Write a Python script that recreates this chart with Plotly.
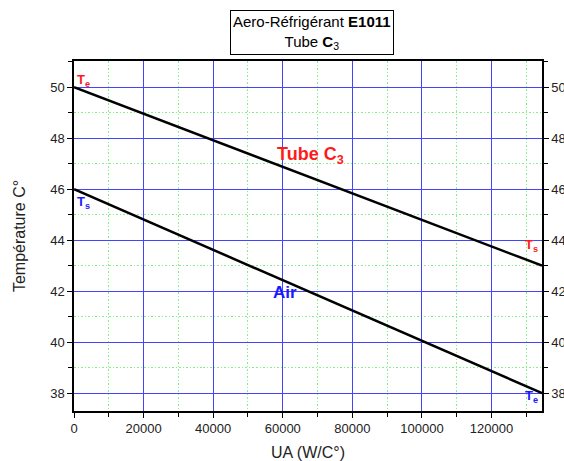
import plotly.graph_objects as go

# Heat-transfer duty axis (W/°C) and temperature profiles
ua = [0, 134500]
t_tube = [50, 43]   # tube-side fluid C3: inlet 50 °C -> outlet 43 °C
t_air = [46, 38]    # air side: outlet 46 °C at UA=0, inlet 38 °C at UA max

x_range = [0, 134500]
y_range = [37.3, 51.03]

FONT = "Liberation Sans, Arial, sans-serif"
BLUE_GRID = "#4444ff"
GREEN_MINOR = "#88ee88"
DOTS = "1.5px,2px"

fig = go.Figure()
fig.add_trace(go.Scatter(x=ua, y=t_tube, mode="lines",
                         line=dict(color="black", width=2.5), showlegend=False))
fig.add_trace(go.Scatter(x=ua, y=t_air, mode="lines",
                         line=dict(color="black", width=2.5), showlegend=False))
# carrier for the right-hand temperature axis
fig.add_trace(go.Scatter(x=ua, y=t_air, yaxis="y2", mode="lines",
                         line=dict(width=0), opacity=0, hoverinfo="skip",
                         showlegend=False))

axis_common = dict(
    showline=True, linecolor="black", linewidth=1.5,
    ticks="outside", ticklen=5, tickwidth=1, tickcolor="black",
    tickfont=dict(family=FONT, size=13, color="#222"),
    zeroline=False, automargin=False,
)

fig.update_layout(
    width=564, height=461,
    margin=dict(l=74, r=22, t=61, b=50),
    plot_bgcolor="white", paper_bgcolor="white",
    font=dict(family=FONT, color="#222"),
    xaxis=dict(
        range=x_range, dtick=20000, tickformat="d",
        showgrid=True, gridcolor=BLUE_GRID, gridwidth=1,
        minor=dict(dtick=10000, showgrid=True, gridcolor=GREEN_MINOR,
                   griddash=DOTS, gridwidth=1, ticks="outside", ticklen=4,
                   tickcolor="black"),
        mirror=True,
        title=dict(text="UA (W/C°)", font=dict(family=FONT, size=16, color="#222"),
                   standoff=11),
        **axis_common,
    ),
    yaxis=dict(
        range=y_range, dtick=2, tick0=38,
        showgrid=True, gridcolor=BLUE_GRID, gridwidth=1,
        minor=dict(dtick=1, showgrid=True, gridcolor=GREEN_MINOR,
                   griddash=DOTS, gridwidth=1, ticks="outside", ticklen=4,
                   tickcolor="black"),
        title=dict(text="Température C°", font=dict(family=FONT, size=16, color="#222"),
                   standoff=21),
        **axis_common,
    ),
    yaxis2=dict(
        range=y_range, dtick=2, tick0=38, overlaying="y", side="right",
        showgrid=False,
        minor=dict(dtick=1, ticks="outside", ticklen=4, tickcolor="black"),
        **axis_common,
    ),
)

annotations = [
    # chart title box
    dict(text="Aero-Réfrigérant <b>E1011</b><br>Tube <b>C</b><sub>3</sub>",
         xref="paper", yref="paper", x=0.509, y=1.017, xanchor="center",
         yanchor="bottom", showarrow=False, align="center",
         font=dict(family=FONT, size=15, color="black"),
         bordercolor="black", borderwidth=1, borderpad=2, bgcolor="white"),
    # curve labels
    dict(text="<b>Tube C<sub>3</sub></b>", x=68100, y=47.34, showarrow=False,
         font=dict(family=FONT, size=18, color="#ff1a1a")),
    dict(text="<b>Air</b>", x=60640, y=41.93, showarrow=False,
         font=dict(family=FONT, size=17, color="#1a1aff")),
    # inlet / outlet markers
    dict(text="<b>T<sub>e</sub></b>", x=2600, y=50.28, showarrow=False,
         font=dict(family=FONT, size=13, color="#ff1a1a")),
    dict(text="<b>T<sub>s</sub></b>", x=2600, y=45.46, showarrow=False,
         font=dict(family=FONT, size=13, color="#1a1aff")),
    dict(text="<b>T<sub>s</sub></b>", x=131600, y=43.81, showarrow=False,
         font=dict(family=FONT, size=13, color="#ff1a1a")),
    dict(text="<b>T<sub>e</sub></b>", x=131600, y=37.87, showarrow=False,
         font=dict(family=FONT, size=13, color="#1a1aff")),
]
fig.update_layout(annotations=annotations)

fig.write_html("out.html")
